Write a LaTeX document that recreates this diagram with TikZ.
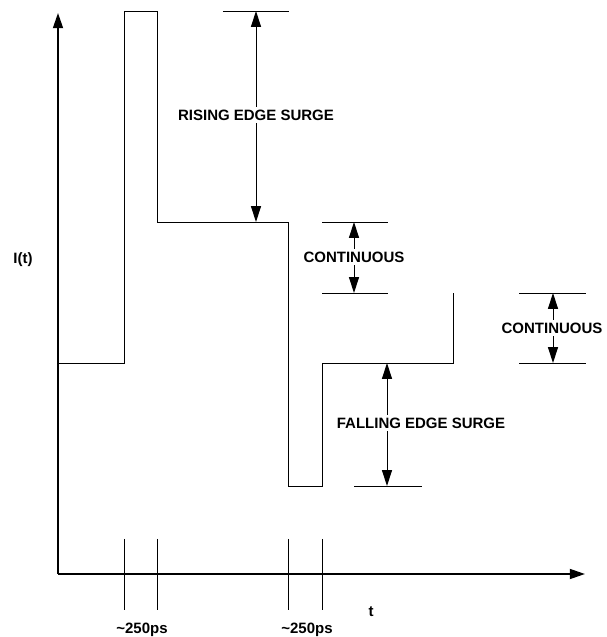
\documentclass[tikz,border=0pt]{standalone}
\usepackage{fontspec}
\setmainfont{Liberation Sans}
\usetikzlibrary{arrows.meta}

\begin{document}
\begin{tikzpicture}[x=0.3cm, y=0.3cm, font=\fontsize{12.8}{15}\selectfont\bfseries,
		wave/.style={line width=0.8pt},
		dimline/.style={line width=0.8pt, {Triangle[length=13.5pt,width=8.5pt]}-{Triangle[length=13.5pt,width=8.5pt]}},
		lbl/.style={fill=white, inner sep=2.5pt}]
	\useasboundingbox (-5.8,-6.3) rectangle (54.9,57.4);
	% axes
	\coordinate (O) at (0,0);
	\coordinate (Ytop) at (0,56.1);
	\coordinate (Xend) at (52.7,0);
	\draw[line width=1.6pt, -{Triangle[length=13pt,width=8.5pt]}] (O) -- (Ytop);
	\draw[line width=1.6pt, -{Triangle[length=13pt,width=8.5pt]}] (O) -- (Xend);
	\node (ilab) at (-3.5,31.4) {I(t)};
	\node (tlab) at (31.3,-3.8) {t};
	% current waveform
	\coordinate (P0) at (0,21.1);
	\coordinate (P1) at (6.6,21.1);
	\coordinate (P2) at (6.6,56.3);
	\coordinate (P3) at (9.9,56.3);
	\coordinate (P4) at (9.9,35.2);
	\coordinate (P5) at (23.0,35.2);
	\coordinate (P6) at (23.0,8.8);
	\coordinate (P7) at (26.4,8.8);
	\coordinate (P8) at (26.4,21.1);
	\coordinate (P9) at (39.5,21.1);
	\coordinate (P10) at (39.5,28.1);
	\draw[wave] (P0)--(P1)--(P2)--(P3)--(P4)--(P5)--(P6)--(P7)--(P8)--(P9)--(P10);
	% edge markers
	\foreach \x in {6.6,9.9,23.0,26.4}
		\draw[wave] (\x,3.5) -- (\x,-3.6);
	\node (tr1) at (8.4,-5.6) {\textasciitilde250ps};
	\node (tr2) at (24.9,-5.6) {\textasciitilde250ps};
	% rising edge surge
	\coordinate (R1) at (19.8,56.3);
	\coordinate (R2) at (19.8,35.2);
	\draw[wave] (16.5,56.3) -- (23.1,56.3);
	\draw[dimline] (R1) -- (R2);
	\node[lbl] (rise) at (19.8,45.9) {RISING EDGE SURGE};
	% continuous (middle)
	\coordinate (C1) at (29.6,35.2);
	\coordinate (C2) at (29.6,28.1);
	\draw[wave] (26.4,35.2) -- (33.0,35.2);
	\draw[wave] (26.4,28.1) -- (33.0,28.1);
	\draw[dimline] (C1) -- (C2);
	\node[lbl] (cont1) at (29.6,31.7) {CONTINUOUS};
	% continuous (right)
	\coordinate (D1) at (49.5,28.1);
	\coordinate (D2) at (49.5,21.1);
	\draw[wave] (46.1,28.1) -- (52.8,28.1);
	\draw[wave] (46.1,21.1) -- (52.8,21.1);
	\draw[dimline] (D1) -- (D2);
	\node[lbl] (cont2) at (49.4,24.6) {CONTINUOUS};
	% falling edge surge
	\coordinate (F1) at (32.9,21.1);
	\coordinate (F2) at (32.9,8.8);
	\draw[wave] (29.6,8.8) -- (36.4,8.8);
	\draw[dimline] (F1) -- (F2);
	\node[lbl] (fall) at (36.3,15.1) {FALLING EDGE SURGE};
\end{tikzpicture}
\end{document}
